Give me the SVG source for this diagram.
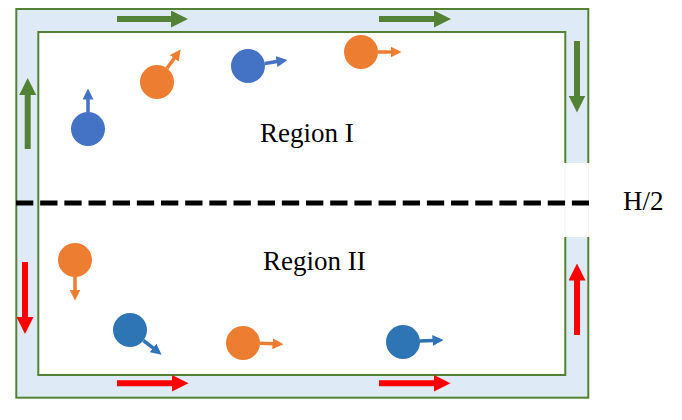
<svg xmlns="http://www.w3.org/2000/svg" width="682" height="420" viewBox="0 0 682 420">
<style>
.frame{stroke:#548235;stroke-width:2}
.lbl{font-family:"Liberation Serif","Times New Roman",serif;font-size:27px;fill:#000}
.blue{fill:#4472C4}
.dblue{fill:#2E75B6}
.orange{fill:#ED7D31}
.sa{stroke-width:3.5;fill:none}
.ga{stroke:#548235;stroke-width:6;fill:none}
.ra{stroke:#FF0000;stroke-width:6;fill:none}
</style>
<defs>
<marker id="hb" viewBox="0 0 11 11" refX="0.5" refY="5.5" markerWidth="11" markerHeight="11" markerUnits="userSpaceOnUse" orient="auto"><path d="M0,0 L11,5.5 L0,11 Z" fill="#4472C4"/></marker>
<marker id="hd" viewBox="0 0 11 11" refX="0.5" refY="5.5" markerWidth="11" markerHeight="11" markerUnits="userSpaceOnUse" orient="auto"><path d="M0,0 L11,5.5 L0,11 Z" fill="#2E75B6"/></marker>
<marker id="ho" viewBox="0 0 11 11" refX="0.5" refY="5.5" markerWidth="11" markerHeight="11" markerUnits="userSpaceOnUse" orient="auto"><path d="M0,0 L11,5.5 L0,11 Z" fill="#ED7D31"/></marker>
<marker id="hg" viewBox="0 0 17 17" refX="0.5" refY="8.5" markerWidth="17" markerHeight="17" markerUnits="userSpaceOnUse" orient="auto"><path d="M0,0 L17,8.5 L0,17 Z" fill="#548235"/></marker>
<marker id="hr" viewBox="0 0 17 17" refX="0.5" refY="8.5" markerWidth="17" markerHeight="17" markerUnits="userSpaceOnUse" orient="auto"><path d="M0,0 L17,8.5 L0,17 Z" fill="#FF0000"/></marker>
</defs>
<g id="channel">
<rect class="frame" x="16.3" y="9" width="572" height="388.7" fill="#DEEBF7"/>
<rect class="frame" x="38.3" y="32" width="527" height="343" fill="#FFFFFF"/>
<rect x="564" y="163" width="26" height="74" fill="#FFFFFF"/>
<line x1="565" y1="163" x2="565" y2="237" stroke="#EFEFEF" stroke-width="0.8"/>
<line x1="588.6" y1="163" x2="588.6" y2="237" stroke="#EFEFEF" stroke-width="0.8"/>
</g>
<g id="midline">
<line x1="16" y1="203" x2="589" y2="203" stroke="#000" stroke-width="5" stroke-dasharray="17.3 6.87"/>
</g>
<g id="labels">
<text id="region1" class="lbl" x="260" y="142">Region I</text>
<text id="region2" class="lbl" x="263" y="270">Region II</text>
<text id="h2" class="lbl" x="623" y="210">H/2</text>
</g>
<g id="particles">
<circle id="p1" class="blue" cx="88" cy="129" r="17"/>
<circle id="p2" class="orange" cx="157" cy="82" r="17"/>
<circle id="p3" class="blue" cx="248" cy="66" r="17"/>
<circle id="p4" class="orange" cx="361" cy="52" r="17"/>
<circle id="p5" class="orange" cx="75" cy="260" r="17"/>
<circle id="p6" class="dblue" cx="130" cy="330" r="17"/>
<circle id="p7" class="orange" cx="243" cy="343" r="17"/>
<circle id="p8" class="dblue" cx="403" cy="342" r="17"/>
</g>
<g id="connectors">
<line class="sa" stroke="#4472C4" x1="88" y1="112" x2="88" y2="99" marker-end="url(#hb)"/>
<line class="sa" stroke="#ED7D31" x1="167" y1="68.2" x2="174.5" y2="57.9" marker-end="url(#ho)"/>
<line class="sa" stroke="#4472C4" x1="264.8" y1="63.5" x2="277.1" y2="61.6" marker-end="url(#hb)"/>
<line class="sa" stroke="#ED7D31" x1="378" y1="52" x2="391" y2="52" marker-end="url(#ho)"/>
<line class="sa" stroke="#ED7D31" x1="75" y1="277" x2="75" y2="290" marker-end="url(#ho)"/>
<line class="sa" stroke="#2E75B6" x1="143.4" y1="340.5" x2="153.3" y2="348.2" marker-end="url(#hd)"/>
<line class="sa" stroke="#ED7D31" x1="260" y1="343.2" x2="273" y2="343.8" marker-end="url(#ho)"/>
<line class="sa" stroke="#2E75B6" x1="419.7" y1="341.1" x2="433" y2="340.5" marker-end="url(#hd)"/>
<line class="ga" x1="117" y1="19" x2="171.5" y2="19" marker-end="url(#hg)"/>
<line class="ga" x1="379" y1="19" x2="434.5" y2="19" marker-end="url(#hg)"/>
<line class="ga" x1="577" y1="41" x2="577" y2="96" marker-end="url(#hg)"/>
<line class="ga" x1="27.7" y1="149" x2="27.7" y2="94.5" marker-end="url(#hg)"/>
<line class="ra" x1="25" y1="262" x2="25" y2="317.5" marker-end="url(#hr)"/>
<line class="ra" x1="117" y1="383.3" x2="172" y2="383.3" marker-end="url(#hr)"/>
<line class="ra" x1="379" y1="383.3" x2="434" y2="383.3" marker-end="url(#hr)"/>
<line class="ra" x1="577" y1="335" x2="577" y2="280" marker-end="url(#hr)"/>
</g>
</svg>
